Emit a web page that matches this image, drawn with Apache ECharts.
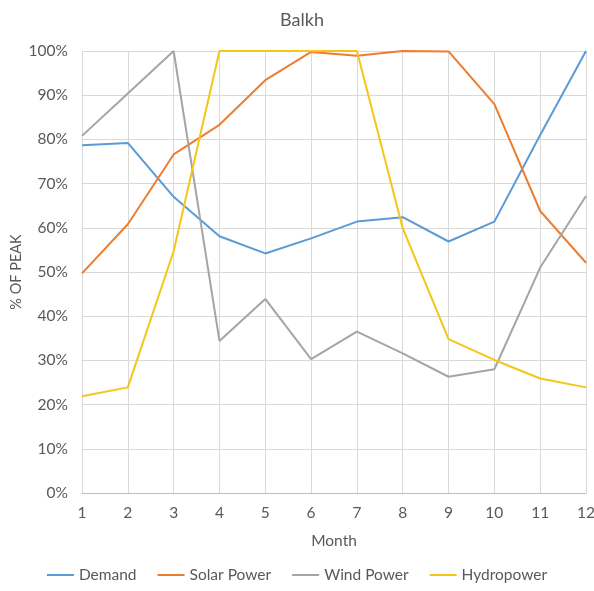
<!DOCTYPE html>
<html>
<head>
<meta charset="utf-8">
<script src="https://cdn.jsdelivr.net/npm/echarts@6/dist/echarts.min.js"></script>
<style>
  html, body { margin: 0; padding: 0; background: #fff; }
  #chart { width: 594px; height: 591px; }
</style>
</head>
<body>
<div id="chart"></div>
<script>
// Monthly profiles for Balkh, as a percentage of each series' peak
const months = ['1', '2', '3', '4', '5', '6', '7', '8', '9', '10', '11', '12'];
const demand = [78.7, 79.2, 67.0, 58.1, 54.2, 57.6, 61.4, 62.4, 56.9, 61.4, 81.0, 100];
const solarPower = [49.7, 60.8, 76.6, 83.3, 93.4, 99.8, 98.9, 100, 99.9, 88.0, 63.8, 52.1];
const windPower = [80.8, 90.4, 100, 34.4, 43.9, 30.3, 36.5, 31.6, 26.3, 28.0, 51.0, 67.2];
const hydropower = [21.9, 23.9, 54.7, 100, 100, 100, 100, 59.9, 34.8, 30.1, 25.9, 23.9];
const yTicks = [0, 10, 20, 30, 40, 50, 60, 70, 80, 90, 100];

const textColor = '#595959';
const gridColor = '#d9d9d9';
const font = 'Lato, "Open Sans", sans-serif';

function lineSeries(name, data, color) {
  return {
    name: name,
    type: 'line',
    data: data,
    showSymbol: false,
    symbol: 'none',
    lineStyle: { color: color, width: 2 },
    itemStyle: { color: color },
    emphasis: { disabled: true }
  };
}

const chart = echarts.init(document.getElementById('chart'), null, { renderer: 'canvas' });
chart.setOption({
  animation: false,
  backgroundColor: '#ffffff',
  title: {
    text: 'Balkh',
    left: 297,
    textAlign: 'center',
    top: 6,
    textStyle: { color: textColor, fontFamily: font, fontSize: 18, fontWeight: 'normal' }
  },
  legend: {
    bottom: 3,
    left: 'center',
    itemWidth: 27,
    itemHeight: 2,
    itemGap: 21,
    icon: 'rect',
    textStyle: { color: textColor, fontFamily: font, fontSize: 15.5 },
    data: ['Demand', 'Solar Power', 'Wind Power', 'Hydropower']
  },
  grid: {
    left: 82, right: 8, top: 51, bottom: 98,
    containLabel: false,
    outerBoundsMode: 'none'
  },
  xAxis: {
    type: 'category',
    data: months,
    boundaryGap: false,
    name: 'Month',
    nameLocation: 'middle',
    nameGap: 40,
    nameMoveOverlap: false,
    nameTextStyle: { color: textColor, fontFamily: font, fontSize: 15.5 },
    axisLine: { lineStyle: { color: '#bfbfbf', width: 1 } },
    axisTick: { show: false },
    axisLabel: { color: textColor, fontFamily: font, fontSize: 15.5, margin: 12 },
    splitLine: { show: true, lineStyle: { color: gridColor, width: 1 } }
  },
  yAxis: {
    type: 'value',
    min: yTicks[0],
    max: yTicks[yTicks.length - 1],
    interval: 10,
    name: '% OF PEAK',
    nameLocation: 'middle',
    nameGap: 58,
    nameMoveOverlap: false,
    nameTextStyle: { color: textColor, fontFamily: font, fontSize: 14.5 },
    axisLine: { show: false },
    axisTick: { show: false },
    axisLabel: { color: textColor, fontFamily: font, fontSize: 15.5, margin: 14, formatter: '{value}%' },
    splitLine: { show: true, lineStyle: { color: gridColor, width: 1 } }
  },
  series: [
    lineSeries('Demand', demand, '#5B9BD5'),
    lineSeries('Solar Power', solarPower, '#ED7D31'),
    lineSeries('Wind Power', windPower, '#A5A5A5'),
    lineSeries('Hydropower', hydropower, '#F5C518')
  ]
});
</script>
</body>
</html>
